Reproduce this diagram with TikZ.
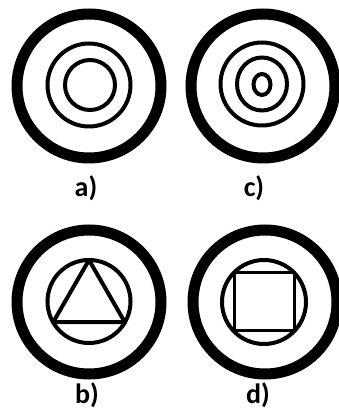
\documentclass[tikz,border=0pt]{standalone}
\usepackage{fontspec}
\setmainfont{Carlito}
\usetikzlibrary{positioning}

\tikzset{
  rim/.style={line width=11pt},
  ring/.style={line width=4pt},
  lbl/.style={font=\fontsize{28}{28}\selectfont\bfseries, inner sep=0pt}
}

\begin{document}
\begin{tikzpicture}[x=1pt,y=1pt]

\useasboundingbox (0,0) rectangle (339,418);

%% 外枠
\draw[rim] (89,332) circle (72);
\draw[rim] (263,332) circle (72);
\draw[rim] (89,116) circle (72);
\draw[rim] (265,116) circle (72);

%% a) 同心円
\draw[ring] (89,333) circle (41.5);
\draw[ring] (90,333) circle (25);

%% c) 同心円
\draw[ring] (262,334) circle (41.5);
\draw[ring] (262,334) ellipse (25 and 26.5);
\draw[ring] (262,333.5) ellipse (8.5 and 10.5);

%% b) 三角形
\draw[ring] (89,116.5) circle (41.5);
\draw[ring, line join=round] (89,158) --(53.1,95.75) --(124.9,95.75) --cycle;

%% d) 四角形
\draw[ring] (264,116) circle (42);
\draw[line width=3pt] (234,87) rectangle (294,145);

%% ラベル
\node[lbl] (la) at (86,230) {a)};
\node[lbl] (lc) at (254,230) {c)};
\node[lbl] (lb) at (87,23) {b)};
\node[lbl] (ld) at (258,23) {d)};

\end{tikzpicture}
\end{document}
